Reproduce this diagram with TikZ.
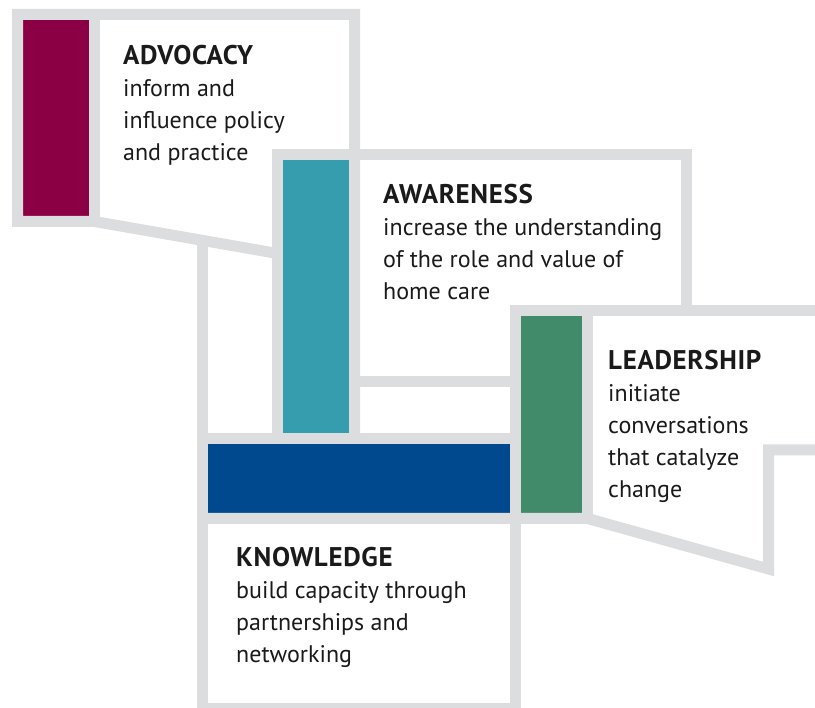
\documentclass[tikz,border=0pt]{standalone}
\usepackage{fontspec}
\setmainfont{PT Sans}
\definecolor{framegray}{RGB}{220,221,222}
\definecolor{advred}{RGB}{139,0,68}
\definecolor{awteal}{RGB}{54,157,174}
\definecolor{ldgreen}{RGB}{66,139,106}
\definecolor{knblue}{RGB}{0,73,143}
\definecolor{ink}{RGB}{26,26,26}
\newcommand{\blockhead}[1]{{\fontsize{27}{31.8}\selectfont\bfseries\addfontfeature{LetterSpace=2.5}#1}}
\begin{document}
\begin{tikzpicture}[x=1pt,y=-1pt,
  band/.style={draw=framegray, line width=11pt, line join=miter, line cap=butt},
  bar/.style={draw=none, inner sep=0pt, outer sep=0pt, anchor=north west},
  blocktext/.style={anchor=base west, inner sep=0pt, text=ink,
    font=\fontsize{24}{31.8}\selectfont}]
\useasboundingbox (0,0) rectangle (815,708);
\clip (0,0) rectangle (815,708);

% coloured bars (slightly oversized, the frame bands cover their edges)
\node[bar, fill=advred,  minimum width=77pt,  minimum height=207pt] (advbar) at (17.5,14.5) {};
\node[bar, fill=awteal,  minimum width=77pt,  minimum height=284pt] (awbar)  at (277.5,154.5) {};
\node[bar, fill=ldgreen, minimum width=72pt,  minimum height=208pt] (ldbar)  at (515.5,310.5) {};
\node[bar, fill=knblue,  minimum width=313pt, minimum height=80pt]  (knbar)  at (202.5,438.5) {};

% frame bands
% advocacy outline with its slanted lower edge
\draw[band] (354.5,438.5) -- (354.5,14.5) -- (17.5,14.5) -- (17.5,221.5)
            -- (94.5,221.5) -- (277.5,253.5);
\draw[band] (94.5,14.5) -- (94.5,221.5);
% awareness outline
\draw[band] (277.5,438.5) -- (277.5,154.5) -- (686.5,154.5) -- (686.5,310.5);
\draw[band] (354.5,381.5) -- (515.5,381.5);
% knowledge outline continuing into the leadership top edge
\draw[band] (202.5,240.4) -- (202.5,708.5) -- (515.5,708.5) -- (515.5,310.5) -- (821,310.5);
\draw[band] (202.5,438.5) -- (515.5,438.5);
% leadership divider and slanted lower edge
\draw[band] (587.5,310.5) -- (587.5,518.5);
\draw[band] (202.5,518.5) -- (587.5,518.5) -- (768.5,569) -- (768.5,450) -- (821,450);

% texts
\node[blocktext] (advtext) at (123,65) {\begin{tabular}[t]{@{}l@{}}\blockhead{ADVOCACY}\\inform and\\influence policy\\and practice\end{tabular}};
\node[blocktext] (awtext) at (383,204) {\begin{tabular}[t]{@{}l@{}}\blockhead{AWARENESS}\\increase the understanding\\of the role and value of\\home care\end{tabular}};
\node[blocktext] (ldtext) at (608,370) {\begin{tabular}[t]{@{}l@{}}\blockhead{LEADERSHIP}\\initiate\\conversations\\that catalyze\\change\end{tabular}};
\node[blocktext] (kntext) at (236,567) {\begin{tabular}[t]{@{}l@{}}\blockhead{KNOWLEDGE}\\build capacity through\\partnerships and\\networking\end{tabular}};
\end{tikzpicture}
\end{document}
